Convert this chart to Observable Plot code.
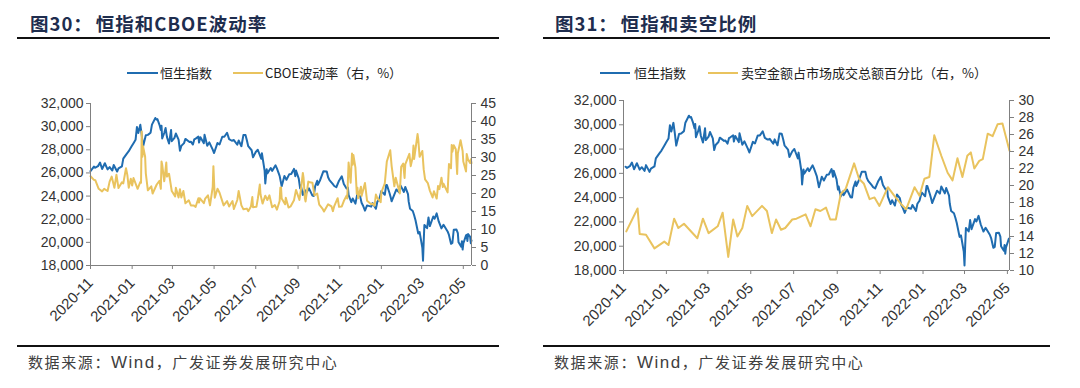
<!DOCTYPE html>
<html><head><meta charset="utf-8">
<script src="https://cdn.jsdelivr.net/npm/d3@7"></script>
<script src="https://cdn.jsdelivr.net/npm/@observablehq/plot@0.6"></script>
<style>
html,body{margin:0;padding:0;background:#fff;}
body{width:1080px;height:388px;overflow:hidden;position:relative;font-family:"Noto Sans CJK SC","Noto Sans",sans-serif;}
.abs{position:absolute;}
.title{font-size:18.5px;font-weight:700;color:#1e2d4e;letter-spacing:1px;white-space:nowrap;line-height:22px;}
.rule{height:2px;background:#111;}
.leg{font-size:13px;color:#222;white-space:nowrap;line-height:16px;}
.sw{height:2px;}
.src{font-size:15px;color:#404040;letter-spacing:1.6px;white-space:nowrap;line-height:20px;}
.src .lat{font-family:"Liberation Sans",Arial,sans-serif;font-size:17px;letter-spacing:1.5px;}
</style></head><body>
<script>
// ---------- data ----------
const titles = ["图30：", "恒指和CBOE波动率", "图31：", "恒指和卖空比例"];
const legendLeft = ["恒生指数", "CBOE波动率（右，%）"];
const legendRight = ["恒生指数", "卖空金额占市场成交总额百分比（右，%）"];
const sourceParts = ["数据来源：", "Wind", "，广发证券发展研究中心"];
const xTickLabels = ["2020-11","2021-01","2021-03","2021-05","2021-07","2021-09","2021-11","2022-01","2022-03","2022-05"];
const hsiTicks = [18000,20000,22000,24000,26000,28000,30000,32000];
const vixTicks = [0,5,10,15,20,25,30,35,40,45];
const shortTicks = [10,12,14,16,18,20,22,24,26,28,30];

// 恒生指数 (date, close)
const hsiSeries = [
["2020-11-13",26157],["2020-11-18",26544],["2020-11-20",26451],["2020-11-24",26588],["2020-11-27",26894],["2020-11-30",26341],
["2020-12-04",26835],["2020-12-08",26304],["2020-12-11",26506],["2020-12-15",26207],["2020-12-17",26678],["2020-12-22",26119],["2020-12-24",26386],["2020-12-29",26568],["2020-12-31",27231],
["2021-01-05",27649],["2021-01-08",27878],["2021-01-12",28276],["2021-01-15",28573],["2021-01-18",28862],["2021-01-20",29962],["2021-01-22",29447],["2021-01-25",30159],["2021-01-27",29297],["2021-01-29",28284],
["2021-02-02",29249],["2021-02-05",29289],["2021-02-09",29476],["2021-02-11",30173],["2021-02-16",30746],["2021-02-18",30595],["2021-02-19",30645],["2021-02-22",30156],["2021-02-24",29718],["2021-02-25",30074],["2021-02-26",28980],
["2021-03-01",29452],["2021-03-03",29880],["2021-03-05",29098],["2021-03-08",28540],["2021-03-11",29718],["2021-03-12",28740],["2021-03-16",29027],["2021-03-18",29405],["2021-03-22",28885],["2021-03-24",27918],["2021-03-26",28336],["2021-03-30",28577],
["2021-04-01",28939],["2021-04-07",28674],["2021-04-09",28698],["2021-04-12",28453],["2021-04-14",28900],["2021-04-16",28969],["2021-04-20",29135],["2021-04-21",28621],["2021-04-23",29078],["2021-04-28",28574],["2021-04-29",29303],
["2021-05-03",28357],["2021-05-06",28637],["2021-05-11",28014],["2021-05-13",27718],["2021-05-18",28593],["2021-05-21",28458],["2021-05-25",29125],["2021-05-28",29124],
["2021-06-01",29468],["2021-06-04",28918],["2021-06-08",28781],["2021-06-11",28842],["2021-06-16",28436],["2021-06-18",28801],["2021-06-22",28309],["2021-06-25",29288],["2021-06-28",29268],["2021-06-30",28828],
["2021-07-02",28310],["2021-07-07",27960],["2021-07-09",27345],["2021-07-13",27812],["2021-07-16",28004],["2021-07-21",27224],["2021-07-22",27707],["2021-07-26",26192],["2021-07-27",25086],["2021-07-29",26316],["2021-07-30",25961],
["2021-08-04",26426],["2021-08-06",26179],["2021-08-11",26660],["2021-08-13",26391],["2021-08-17",25745],["2021-08-20",24849],["2021-08-24",25728],["2021-08-27",25407],["2021-08-31",25879],
["2021-09-03",25901],["2021-09-07",26353],["2021-09-09",25716],["2021-09-10",26205],["2021-09-14",25502],["2021-09-16",24668],["2021-09-17",24920],["2021-09-20",24099],["2021-09-23",24511],["2021-09-24",24192],["2021-09-29",24663],
["2021-10-04",24036],["2021-10-06",24004],["2021-10-08",24838],["2021-10-11",25325],["2021-10-12",24962],["2021-10-15",25330],["2021-10-20",26136],["2021-10-25",26132],["2021-10-27",25628],["2021-10-29",25377],
["2021-11-03",25024],["2021-11-05",24870],["2021-11-08",24763],["2021-11-12",25327],["2021-11-16",25713],["2021-11-19",25049],["2021-11-23",24651],["2021-11-25",24740],["2021-11-26",24080],["2021-11-30",23475],
["2021-12-02",23788],["2021-12-06",23349],["2021-12-09",24254],["2021-12-13",23954],["2021-12-15",23420],["2021-12-17",23192],["2021-12-20",22744],["2021-12-23",23193],["2021-12-29",23086],["2021-12-31",23398],
["2022-01-05",22907],["2022-01-07",23493],["2022-01-10",23746],["2022-01-13",24429],["2022-01-18",24112],["2022-01-20",24952],["2022-01-21",24965],["2022-01-25",24243],["2022-01-27",23807],["2022-01-28",23550],
["2022-02-04",24573],["2022-02-08",24329],["2022-02-10",24924],["2022-02-15",24355],["2022-02-17",24792],["2022-02-21",24170],["2022-02-22",23520],["2022-02-24",22902],["2022-02-28",22713],
["2022-03-02",22344],["2022-03-04",21906],["2022-03-08",20765],["2022-03-10",20891],["2022-03-11",20554],["2022-03-14",19532],["2022-03-15",18415],["2022-03-16",20087],["2022-03-17",21501],["2022-03-21",21221],["2022-03-23",22154],["2022-03-25",21405],["2022-03-30",22232],
["2022-04-01",22039],["2022-04-04",22502],["2022-04-07",21808],["2022-04-11",21208],["2022-04-14",21518],["2022-04-20",20944],["2022-04-22",20638],["2022-04-25",19869],["2022-04-27",19946],["2022-04-29",21089],
["2022-05-03",21101],["2022-05-05",20793],["2022-05-06",20002],["2022-05-10",19633],["2022-05-11",20103],["2022-05-12",19380],["2022-05-13",19898],["2022-05-17",20602],["2022-05-18",20644],["2022-05-19",20121],["2022-05-20",20717],["2022-05-23",20470],["2022-05-24",19927],["2022-05-25",20171]
];

// CBOE波动率 (%)
const vixSeries = [
["2020-11-13",24.8],["2020-11-18",23.8],["2020-11-20",23.7],["2020-11-25",21.3],["2020-11-30",20.6],
["2020-12-03",21.3],["2020-12-08",20.7],["2020-12-11",23.3],["2020-12-14",24.7],["2020-12-18",21.6],["2020-12-21",25.2],["2020-12-24",21.5],["2020-12-29",23.1],["2020-12-31",22.8],
["2021-01-04",27.0],["2021-01-06",25.1],["2021-01-08",21.6],["2021-01-11",24.1],["2021-01-13",22.2],["2021-01-15",24.3],["2021-01-21",21.3],["2021-01-25",23.2],["2021-01-26",23.0],["2021-01-27",37.2],["2021-01-28",30.2],["2021-01-29",33.1],
["2021-02-01",30.2],["2021-02-02",25.6],["2021-02-05",20.9],["2021-02-10",22.0],["2021-02-12",20.0],["2021-02-18",22.5],["2021-02-22",23.5],["2021-02-24",21.3],["2021-02-25",28.9],["2021-02-26",28.0],
["2021-03-01",23.4],["2021-03-04",28.6],["2021-03-05",24.7],["2021-03-08",25.5],["2021-03-12",20.7],["2021-03-17",19.2],["2021-03-18",21.6],["2021-03-22",18.9],["2021-03-24",21.2],["2021-03-26",18.9],["2021-03-29",20.7],
["2021-04-01",17.3],["2021-04-06",18.1],["2021-04-09",16.7],["2021-04-13",16.7],["2021-04-16",16.3],["2021-04-20",18.7],["2021-04-21",17.5],["2021-04-22",18.7],["2021-04-28",17.3],["2021-04-30",18.6],
["2021-05-04",19.5],["2021-05-07",16.7],["2021-05-11",21.8],["2021-05-12",27.6],["2021-05-13",23.1],["2021-05-14",18.8],["2021-05-18",21.3],["2021-05-21",20.2],["2021-05-27",16.7],
["2021-06-01",17.9],["2021-06-04",16.4],["2021-06-09",17.9],["2021-06-11",15.7],["2021-06-16",18.2],["2021-06-18",20.7],["2021-06-22",16.7],["2021-06-25",15.6],["2021-06-30",15.8],
["2021-07-02",15.1],["2021-07-06",16.4],["2021-07-08",19.0],["2021-07-09",16.2],["2021-07-14",16.3],["2021-07-16",18.5],["2021-07-19",22.5],["2021-07-20",19.7],["2021-07-23",17.2],["2021-07-27",19.4],["2021-07-30",18.2],
["2021-08-02",19.5],["2021-08-06",16.2],["2021-08-10",16.8],["2021-08-13",15.5],["2021-08-17",17.9],["2021-08-18",21.6],["2021-08-19",21.7],["2021-08-20",18.6],["2021-08-25",17.0],["2021-08-26",18.8],["2021-08-30",16.1],
["2021-09-02",16.4],["2021-09-07",18.1],["2021-09-10",21.0],["2021-09-15",18.2],["2021-09-17",20.8],["2021-09-20",25.7],["2021-09-21",24.4],["2021-09-23",18.6],["2021-09-24",17.8],["2021-09-28",23.3],["2021-09-30",23.1],
["2021-10-04",23.0],["2021-10-07",19.5],["2021-10-11",20.0],["2021-10-14",16.9],["2021-10-19",15.7],["2021-10-21",15.0],["2021-10-27",17.0],
["2021-11-01",16.4],["2021-11-03",15.1],["2021-11-05",16.5],["2021-11-10",18.7],["2021-11-12",16.3],["2021-11-16",16.4],["2021-11-19",17.9],["2021-11-23",19.4],["2021-11-24",18.6],["2021-11-26",28.6],["2021-11-29",23.0],["2021-11-30",27.2],
["2021-12-01",31.1],["2021-12-02",28.0],["2021-12-03",30.7],["2021-12-06",27.2],["2021-12-08",19.9],["2021-12-09",21.6],["2021-12-10",18.7],["2021-12-14",21.9],["2021-12-15",19.3],["2021-12-20",22.9],["2021-12-23",18.0],["2021-12-29",17.0],["2021-12-31",17.2],
["2022-01-03",16.6],["2022-01-05",19.7],["2022-01-07",18.8],["2022-01-12",17.6],["2022-01-13",20.3],["2022-01-18",22.8],["2022-01-21",28.9],["2022-01-26",32.0],["2022-01-28",27.7],
["2022-02-01",22.0],["2022-02-03",24.4],["2022-02-09",20.0],["2022-02-11",27.4],["2022-02-14",28.3],["2022-02-16",24.3],["2022-02-17",28.1],["2022-02-23",31.0],["2022-02-25",27.6],["2022-02-28",30.2],
["2022-03-01",33.3],["2022-03-02",29.6],["2022-03-07",36.5],["2022-03-08",35.1],["2022-03-10",30.2],["2022-03-14",31.8],["2022-03-16",26.7],["2022-03-18",23.9],["2022-03-22",22.9],["2022-03-25",20.8],["2022-03-29",18.9],["2022-03-31",20.6],
["2022-04-04",18.6],["2022-04-06",22.1],["2022-04-08",21.2],["2022-04-11",24.4],["2022-04-13",21.8],["2022-04-14",22.7],["2022-04-20",20.3],["2022-04-22",28.2],["2022-04-25",27.0],["2022-04-26",33.5],["2022-04-27",31.6],["2022-04-29",33.4],
["2022-05-02",32.3],["2022-05-04",25.4],["2022-05-05",31.2],["2022-05-09",34.8],["2022-05-12",31.8],["2022-05-13",28.9],["2022-05-17",26.1],["2022-05-18",31.0],["2022-05-20",29.4],["2022-05-23",28.5],["2022-05-24",29.5],["2022-05-25",28.4]
];

// 卖空金额占市场成交总额百分比 (%)
const shortDates = ["2020-11-19","2020-12-05","2020-12-08","2020-12-17","2020-12-29","2021-01-12","2021-01-18","2021-01-26","2021-02-01","2021-02-09","2021-02-28","2021-03-08","2021-03-16","2021-03-29","2021-04-05","2021-04-13","2021-04-20","2021-04-26","2021-05-03","2021-05-10","2021-05-17","2021-05-31","2021-06-07","2021-06-14","2021-06-20","2021-06-27","2021-07-03","2021-07-13","2021-07-19","2021-08-01","2021-08-08","2021-08-15","2021-08-22","2021-08-30","2021-09-05","2021-09-13","2021-09-20","2021-09-27","2021-10-09","2021-10-16","2021-10-23","2021-10-31","2021-11-07","2021-11-14","2021-11-26","2021-12-05","2021-12-15","2021-12-22","2022-01-03","2022-01-10","2022-01-17","2022-01-24","2022-01-31","2022-02-10","2022-02-19","2022-02-26","2022-03-05","2022-03-12","2022-03-19","2022-03-24","2022-03-29","2022-04-05","2022-04-10","2022-04-17","2022-04-24","2022-05-01","2022-05-08","2022-05-18"];
const shortValues = [14.6,17.3,14.3,14.2,12.6,13.4,13.0,16.1,15.0,15.5,13.8,16.1,14.4,15.2,16.8,11.6,16.0,14.0,15.0,17.6,16.4,17.6,17.0,14.4,16.0,14.8,15.0,16.0,16.1,16.6,15.2,17.2,17.0,17.4,16.0,16.0,19.0,19.6,22.6,20.8,20.2,18.4,18.6,17.6,19.8,18.8,17.8,17.2,19.8,18.8,20.8,21.0,25.9,23.5,21.5,20.6,23.2,21.0,23.5,23.9,22.0,22.9,23.1,26.1,25.8,27.2,27.3,24.1];

// ---------- rendering ----------
const BLUE = "#1f6cb0", GOLD = "#e9c35e", AXIS = "#808080", TXT = "#333";
const parse = d3.utcParse("%Y-%m-%d");

function el(cls, style, html) {
  const d = document.createElement("div");
  d.className = "abs " + cls;
  Object.assign(d.style, style);
  if (html != null) d.innerHTML = html;
  document.body.appendChild(d);
  return d;
}

// titles
el("title", {left: "30px", top: "12px"}, titles[0] + '<span style="margin-left:3px">' + titles[1] + "</span>");
el("title", {left: "555px", top: "12px"}, titles[2] + '<span style="margin-left:3px">' + titles[3] + "</span>");
// rules
el("rule", {left: "17px", top: "37px", width: "482px"});
el("rule", {left: "543px", top: "37px", width: "507px"});
el("rule", {left: "17px", top: "345px", width: "482px"});
el("rule", {left: "543px", top: "345px", width: "507px"});
// sources
const srcHtml = sourceParts[0] + '<span class="lat">' + sourceParts[1] + "</span>" + sourceParts[2];
el("src", {left: "28px", top: "352px"}, srcHtml);
el("src", {left: "554px", top: "352px"}, srcHtml);
// legends
function legendItem(x, w, color, tx, label) {
  el("sw", {left: x + "px", top: "72px", width: w + "px", background: color});
  el("leg", {left: tx + "px", top: "65px"}, label);
}
legendItem(127, 31, BLUE, 160, legendLeft[0]);
legendItem(233, 30, GOLD, 265, legendLeft[1]);
legendItem(600, 30, BLUE, 634, legendRight[0]);
legendItem(708, 30, GOLD, 741, legendRight[1]);

const hsi = hsiSeries.map(([d, v]) => ({date: parse(d), value: v}));

function panel({left, marginLeft, marginRight, marginTop, marginBottom, start, end, tickDay, second, secondTicks, secondDomain}) {
  const x0 = parse(start), x1 = parse(end);
  const sec = d3.scaleLinear().domain(secondDomain).range([18000, 32000]);
  const tickDates = xTickLabels.map(l => parse(l + "-" + tickDay));
  const main = hsi.filter(d => d.date >= x0 && d.date <= x1);
  const secData = second.map(d => ({date: d.date, y: sec(d.value)}));
  const svg = Plot.plot({
    width: 540, height: 245,
    marginLeft, marginRight, marginTop, marginBottom,
    x: {type: "utc", domain: [x0, x1]},
    y: {domain: [18000, 32000]},
    style: {fontFamily: "'Liberation Sans', Arial, sans-serif", fontSize: "14px", color: TXT, background: "transparent", overflow: "visible"},
    marks: [
      Plot.line(main, {x: "date", y: "value", stroke: BLUE, strokeWidth: 2}),
      Plot.line(secData, {x: "date", y: "y", stroke: GOLD, strokeWidth: 2}),
      Plot.ruleX([x0], {stroke: AXIS}),
      Plot.ruleX([x1], {stroke: AXIS}),
      Plot.ruleY([18000], {stroke: AXIS}),
      Plot.axisY(hsiTicks, {anchor: "left", tickFormat: d3.format(","), tickSize: 4, tickPadding: 3, stroke: AXIS, fill: TXT, label: null}),
      Plot.axisY(secondTicks.map(sec), {anchor: "right", tickFormat: v => String(Math.round(sec.invert(v))), tickSize: 4, tickPadding: 5, stroke: AXIS, fill: TXT, label: null}),
      Plot.axisX(tickDates, {anchor: "bottom", tickFormat: d3.utcFormat("%Y-%m"), tickRotate: -45, tickSize: 4, tickPadding: 11, fontSize: 15, stroke: AXIS, fill: TXT, label: null})
    ]
  });
  svg.style.position = "absolute";
  svg.style.left = left + "px";
  svg.style.top = "95px";
  document.body.appendChild(svg);
}

panel({left: 0, marginLeft: 90, marginRight: 69, marginTop: 8, marginBottom: 75,
  start: "2020-11-13", end: "2022-05-25", tickDay: "13",
  second: vixSeries.map(([d, v]) => ({date: parse(d), value: v})),
  secondTicks: vixTicks, secondDomain: [0, 45]});

panel({left: 540, marginLeft: 83, marginRight: 71, marginTop: 5, marginBottom: 70,
  start: "2020-11-15", end: "2022-05-18", tickDay: "15",
  second: shortDates.map((d, i) => ({date: parse(d), value: shortValues[i]})),
  secondTicks: shortTicks, secondDomain: [10, 30]});
</script>
</body></html>
